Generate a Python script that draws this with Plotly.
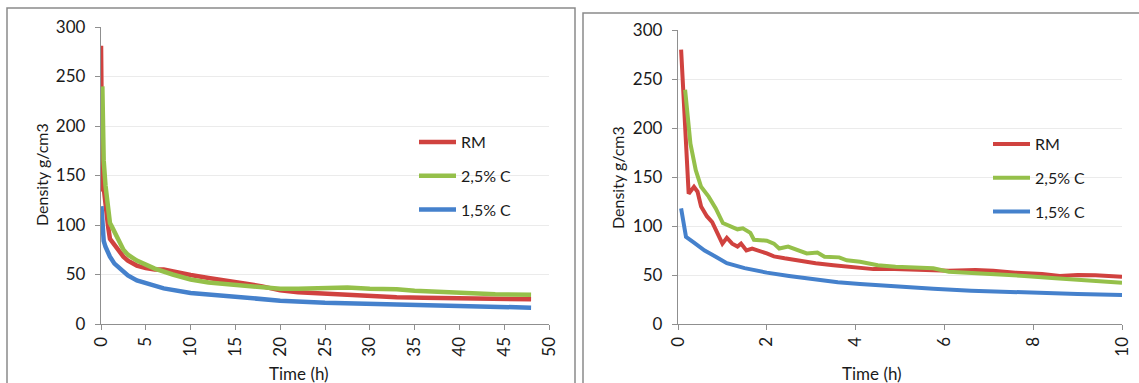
import plotly.graph_objects as go

W, H = 1139, 383

# ---------------- data: left panel (0-48 h) ----------------
t_rm_L = [0.0, 0.05, 0.15, 0.3, 0.5, 0.8, 1.0, 1.5, 2, 2.5, 3, 4, 5, 6, 7, 8, 9, 10, 12, 14, 15, 16, 18, 20, 22, 24, 26, 28, 30, 33, 36, 40, 44, 48]
rm_L   = [281, 250, 134, 138, 118, 98, 86, 80, 74, 68, 64, 59, 56.5, 55, 55, 53, 51, 49.5, 46.5, 44, 43, 41, 38, 34, 32, 31, 30, 29, 28.5, 27, 26.5, 26, 25.5, 25]

t_g_L = [0.15, 0.3, 0.5, 0.7, 1.0, 1.2, 1.5, 2, 2.5, 3, 4, 5, 6, 8, 10, 12, 15, 18, 20, 22, 25, 27.5, 30, 33, 35, 38, 40, 44, 48]
g_L   = [240, 165, 140, 125, 102, 98.6, 93, 84, 75, 70, 64, 60, 56, 50, 45, 42, 39.5, 37, 35.5, 35.5, 35.8, 36.8, 35.5, 35, 33.5, 32, 31, 30, 29.5]

t_b_L = [0.05, 0.15, 0.3, 0.5, 1, 1.5, 2, 3, 4, 5, 7, 10, 15, 20, 25, 30, 35, 40, 48]
b_L   = [119, 92, 84, 78, 68, 61, 57, 49, 44, 41, 36, 31.4, 27, 23.6, 21.5, 20.3, 19, 18, 16.5]

# ---------------- data: right panel (0-10 h) ----------------
t_rm_R = [0.07, 0.24, 0.36, 0.44, 0.52, 0.65, 0.77, 0.85, 1.0, 1.1, 1.22, 1.34, 1.42, 1.54, 1.67, 2.0, 2.16, 2.4, 2.65, 2.9, 3.1, 3.5, 3.8, 4.0, 4.4, 4.7, 5.1, 5.6, 6.1, 6.7, 7.1, 7.6, 8.2, 8.6, 9.0, 9.4, 10.0]
rm_R   = [280, 133, 140, 135, 120, 110, 104, 96, 82, 88, 82, 79, 82, 75, 77, 72, 69, 67, 65, 63, 62, 60, 58.5, 58.5, 56, 56.5, 56, 55, 54.4, 55, 54.4, 52.4, 51, 49, 50, 49.7, 48.3]

t_g_R = [0.16, 0.28, 0.4, 0.52, 0.69, 0.85, 1.01, 1.18, 1.34, 1.46, 1.63, 1.71, 2.0, 2.16, 2.28, 2.48, 2.69, 2.9, 3.14, 3.3, 3.63, 3.8, 4.1, 4.5, 4.9, 5.4, 5.75, 6.1, 6.6, 7.06, 7.8, 8.5, 9.3, 10.0]
g_R   = [239, 184, 157, 140, 130, 118, 103, 100, 96.6, 97.6, 93, 86, 85, 82, 77, 79, 75, 72, 73, 68.7, 68, 65, 63.6, 60, 58.5, 57.8, 56.8, 53.4, 52.4, 51, 49, 46.6, 44.2, 42.2]

t_b_R = [0.07, 0.18, 0.36, 0.6, 0.85, 1.0, 1.1, 1.5, 2.0, 2.5, 3.0, 3.6, 4.1, 4.9, 5.75, 6.6, 7.4, 8.2, 9.0, 10.0]
b_R   = [118, 89, 83, 75, 68.7, 65, 62, 57, 52.4, 49, 45.6, 42.5, 40.8, 38, 36, 34, 32.7, 31.3, 30.6, 29.6]

series_names = ["RM", "2,5% C", "1,5% C"]
x_ticks_L = list(range(0, 51, 5))
x_ticks_R = list(range(0, 11, 2))
y_ticks = list(range(0, 301, 50))

RED, GREEN, BLUE = "#D0423F", "#95C04A", "#4581CC"
FONT = "Lato"
AX = "#8f8f8f"

fig = go.Figure()

left = [(t_rm_L, rm_L, RED), (t_g_L, g_L, GREEN), (t_b_L, b_L, BLUE)]
right = [(t_rm_R, rm_R, RED), (t_g_R, g_R, GREEN), (t_b_R, b_R, BLUE)]
for name, (tx, ty, c) in zip(series_names, left):
    fig.add_trace(go.Scatter(x=tx, y=ty, mode="lines", name=name, line=dict(color=c, width=4.5),
                             xaxis="x", yaxis="y", legend="legend", legendgroup="L" + name))
for name, (tx, ty, c) in zip(series_names, right):
    fig.add_trace(go.Scatter(x=tx, y=ty, mode="lines", name=name, line=dict(color=c, width=4),
                             xaxis="x2", yaxis="y2", legend="legend2", legendgroup="R" + name))

def px_x(p):
    return p / W

def px_y(p):
    return (H - p) / H

axis_common = dict(showline=True, linecolor=AX, linewidth=1.3, ticks="outside", ticklen=5,
                   tickcolor=AX, tickwidth=1.3, tickfont=dict(family=FONT, size=17, color="#1a1a1a"),
                   zeroline=False, automargin=False)

fig.update_layout(
    template="none",
    width=W, height=H, margin=dict(l=0, r=0, t=0, b=0, pad=0),
    paper_bgcolor="white", plot_bgcolor="white",
    font=dict(family=FONT, color="#1a1a1a"),
    xaxis=dict(domain=[px_x(101), px_x(549)], range=[0, 50], tickvals=x_ticks_L, tickangle=-90,
               showgrid=False, anchor="y", **axis_common),
    yaxis=dict(domain=[px_y(324), px_y(27)], range=[0, 300], tickvals=y_ticks, showgrid=True,
               gridcolor="#ebebeb", gridwidth=1, anchor="x", ticklabelstandoff=6, **axis_common),
    xaxis2=dict(domain=[px_x(678), px_x(1122)], range=[0, 10], tickvals=x_ticks_R, tickangle=-90,
                showgrid=False, anchor="y2", **axis_common),
    yaxis2=dict(domain=[px_y(324), px_y(30)], range=[0, 300], tickvals=y_ticks, showgrid=True,
                gridcolor="#ebebeb", gridwidth=1, anchor="x2", ticklabelstandoff=6, **axis_common),
    legend=dict(x=px_x(414), y=px_y(125), xanchor="left", yanchor="top", bgcolor="rgba(0,0,0,0)",
                borderwidth=0, font=dict(family=FONT, size=16, color="#1a1a1a"), traceorder="grouped",
                tracegroupgap=10, itemwidth=37),
    legend2=dict(x=px_x(988), y=px_y(127), xanchor="left", yanchor="top", bgcolor="rgba(0,0,0,0)",
                 borderwidth=0, font=dict(family=FONT, size=16, color="#1a1a1a"), traceorder="grouped",
                 tracegroupgap=10, itemwidth=37),
    showlegend=True,
)

# panel frames
fig.add_shape(type="rect", xref="paper", yref="paper", x0=px_x(7), x1=px_x(575), y0=-0.05, y1=px_y(8),
              line=dict(color="#8a8a8a", width=1.5), fillcolor="rgba(0,0,0,0)", layer="below")
fig.add_shape(type="rect", xref="paper", yref="paper", x0=px_x(583), x1=1.05, y0=-0.05, y1=px_y(13),
              line=dict(color="#8a8a8a", width=1.5), fillcolor="rgba(0,0,0,0)", layer="below")

# axis titles
for x, y in [(299, 373), (872, 373)]:
    fig.add_annotation(text="Time (h)", x=px_x(x), y=px_y(y), xref="paper", yref="paper",
                       xanchor="center", yanchor="middle",
                       showarrow=False, font=dict(family=FONT, size=17, color="#1a1a1a"))
for x, y in [(42, 175), (617, 178)]:
    fig.add_annotation(text="Density g/cm3", x=px_x(x), y=px_y(y), xref="paper", yref="paper",
                       xanchor="center", yanchor="middle",
                       showarrow=False, textangle=-90, font=dict(family=FONT, size=16, color="#1a1a1a"))

fig.write_html("out.html", config={"displayModeBar": False},
               post_script="document.body.style.margin='0';document.body.style.overflow='hidden';")
